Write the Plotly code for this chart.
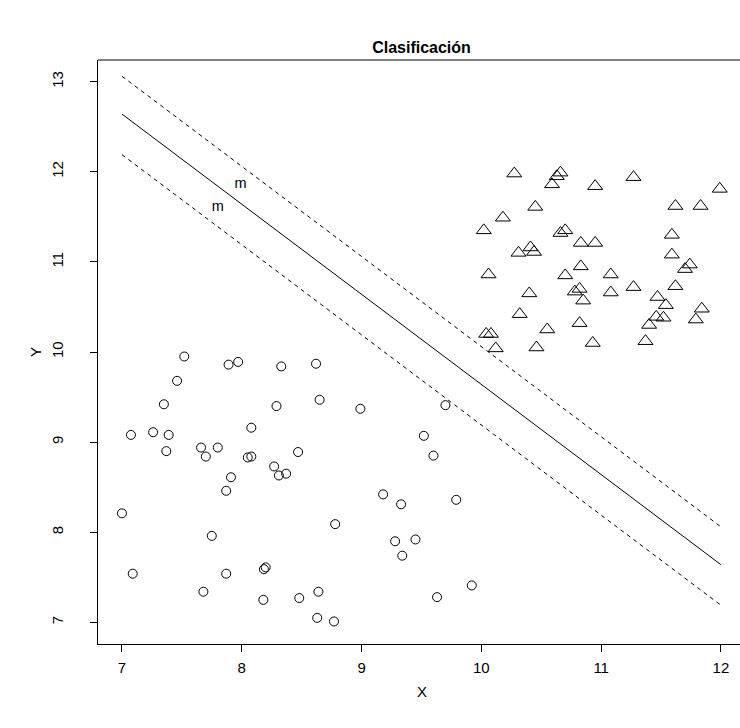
import plotly.graph_objects as go

# Class 1 (circles)
circ_x = [7.52, 7.89, 7.97, 8.33, 8.62, 7.46, 7.35, 8.29, 8.65, 7.075,
          7.26, 7.39, 8.08, 7.37, 7.66, 7.80, 7.70, 8.05, 8.08, 8.47,
          8.27, 8.31, 8.37, 7.91, 7.87, 7.00, 8.78, 7.75, 7.09, 7.87,
          8.185, 8.20, 7.68, 8.18, 8.48, 8.64, 8.63, 8.77, 8.99, 9.70,
          9.52, 9.60, 9.18, 9.33, 9.79, 9.28, 9.45, 9.34, 9.92, 9.63]
circ_y = [9.95, 9.86, 9.89, 9.84, 9.87, 9.68, 9.42, 9.40, 9.47, 9.08,
          9.11, 9.08, 9.16, 8.90, 8.94, 8.94, 8.84, 8.83, 8.84, 8.89,
          8.73, 8.63, 8.65, 8.61, 8.46, 8.21, 8.09, 7.96, 7.54, 7.54,
          7.59, 7.61, 7.34, 7.25, 7.27, 7.34, 7.05, 7.01, 9.37, 9.41,
          9.07, 8.85, 8.42, 8.31, 8.36, 7.90, 7.92, 7.74, 7.41, 7.28]

# Class 2 (triangles)
tri_x = [10.275, 10.66, 10.63, 10.59, 10.95, 11.27, 11.99, 10.45, 10.18, 11.62,
         11.83, 10.02, 10.66, 10.70, 10.83, 10.95, 11.59, 10.41, 10.31, 10.44,
         11.59, 11.74, 11.70, 10.06, 10.83, 10.70, 11.08, 10.40, 10.78, 10.82,
         10.85, 11.08, 11.27, 11.62, 11.47, 11.54, 11.46, 11.52, 11.40, 11.84,
         11.79, 10.32, 10.82, 10.55, 10.04, 10.08, 10.12, 10.46, 10.93, 11.37]
tri_y = [11.98, 11.99, 11.95, 11.86, 11.84, 11.94, 11.81, 11.61, 11.49, 11.62,
         11.62, 11.35, 11.32, 11.35, 11.21, 11.21, 11.30, 11.16, 11.10, 11.11,
         11.08, 10.97, 10.92, 10.86, 10.95, 10.85, 10.86, 10.65, 10.67, 10.70,
         10.57, 10.66, 10.72, 10.73, 10.61, 10.52, 10.39, 10.38, 10.30, 10.48,
         10.36, 10.42, 10.32, 10.25, 10.20, 10.20, 10.04, 10.05, 10.10, 10.12]

# Separating line y = a - x and margins
line_x = [7, 12]
line_a = 19.64
upper_a = 20.06
lower_a = 19.19

label_x = [7.99, 7.80]
label_y = [11.86, 11.61]
label_text = ["m", "m"]

FONT = "Liberation Sans, Arial, Helvetica, sans-serif"
FS = 15

fig = go.Figure()
fig.add_trace(go.Scatter(x=circ_x, y=circ_y, mode="markers",
                         marker=dict(symbol="circle-open", size=9, color="black",
                                     line=dict(width=1, color="black")),
                         showlegend=False, cliponaxis=False))
fig.add_trace(go.Scatter(x=tri_x, y=tri_y, mode="markers",
                         marker=dict(symbol="triangle-up-open", size=13, color="black",
                                     line=dict(width=1, color="black")),
                         showlegend=False, cliponaxis=False))
fig.add_trace(go.Scatter(x=line_x, y=[line_a - v for v in line_x], mode="lines",
                         line=dict(color="black", width=1), showlegend=False))
for a in (upper_a, lower_a):
    fig.add_trace(go.Scatter(x=line_x, y=[a - v for v in line_x], mode="lines",
                             line=dict(color="black", width=1, dash="4px,4px"),
                             showlegend=False))
fig.add_trace(go.Scatter(x=label_x, y=label_y, mode="text", text=label_text,
                         textfont=dict(family=FONT, size=14.5, color="black"),
                         showlegend=False))

# top border of box
fig.add_shape(type="line", xref="paper", yref="paper", x0=0, x1=1, y0=1, y1=1,
              line=dict(color="black", width=1))

fig.update_layout(
    width=740, height=728,
    margin=dict(l=98, r=0, t=60, b=84),
    plot_bgcolor="white", paper_bgcolor="white",
    font=dict(family=FONT, size=FS, color="black"),
    title=dict(text="<b>Clasificación</b>", xref="container", yref="container",
               x=421.5 / 740, y=1 - 47 / 728, xanchor="center", yanchor="middle",
               font=dict(family=FONT, size=16, color="black")),
    xaxis=dict(range=[6.8, 6.8 + 642 / 119.8], tickvals=[7, 8, 9, 10, 11, 12],
               ticks="outside", ticklen=7, tickwidth=1, tickcolor="black",
               showline=True, linecolor="black", linewidth=1, mirror=False,
               showgrid=False, zeroline=False, ticklabelstandoff=3,
               tickfont=dict(family=FONT, size=FS, color="black")),
    yaxis=dict(range=[6.76, 13.24], tickvals=[7, 8, 9, 10, 11, 12, 13],
               ticks="outside", ticklen=7, tickwidth=1, tickcolor="black",
               showline=True, linecolor="black", linewidth=1, mirror=False,
               showgrid=False, zeroline=False, tickangle=-90, ticklabelstandoff=21,
               tickfont=dict(family=FONT, size=FS, color="black")),
    annotations=[
        dict(text="X", xref="paper", yref="paper", x=(421.5 - 98) / 642,
             y=(644 - 692) / 584, xanchor="center", yanchor="middle", showarrow=False,
             font=dict(family=FONT, size=FS, color="black")),
        dict(text="Y", xref="paper", yref="paper", x=(35 - 98) / 642, y=0.5,
             xanchor="center", yanchor="middle", showarrow=False, textangle=-90,
             font=dict(family=FONT, size=FS, color="black")),
    ],
)

fig.write_html("out.html")
